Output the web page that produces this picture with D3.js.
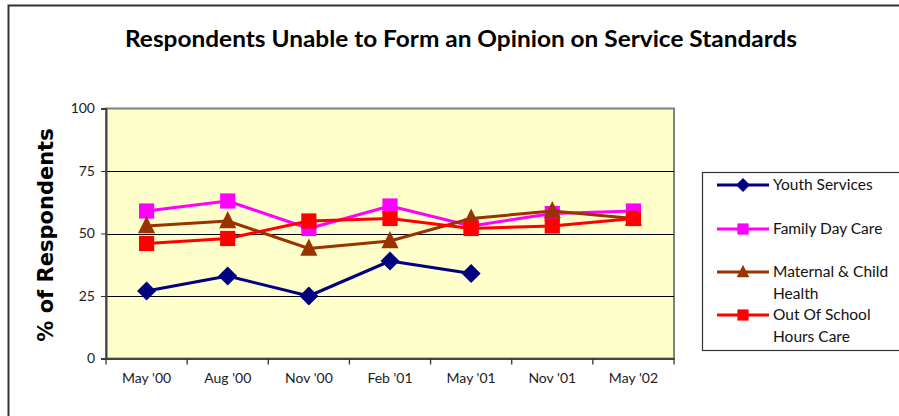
<!DOCTYPE html>
<html><head><meta charset="utf-8">
<script src="https://cdn.jsdelivr.net/npm/d3@7"></script>
<style>
body{margin:0;background:#fff;}
svg{display:block;}
</style></head>
<body>
<svg id="chart" width="899" height="416"></svg>
<script>
const categories = ["May '00","Aug '00","Nov '00","Feb '01","May '01","Nov '01","May '02"];
const youthServices = [27,33,25,39,34,null,null];
const familyDayCare = [59,63,52,61,53,58,59];
const maternalChildHealth = [53,55,44,47,56,59,56];
const outOfSchoolHoursCare = [46,48,55,56,52,53,56];
const yTicks = [0,25,50,75,100];
const seriesNames = ["Youth Services","Family Day Care","Maternal & Child Health","Out Of School Hours Care"];
const legendLines = [["Youth Services"],["Family Day Care"],["Maternal & Child","Health"],["Out Of School","Hours Care"]];
const seriesColors = ["#000080","#FF00FF","#993300","#FF0000"];
const seriesMarkers = ["diamond","square","triangle","square"];

const series = [youthServices,familyDayCare,maternalChildHealth,outOfSchoolHoursCare].map((vals,i)=>({
  name: seriesNames[i], color: seriesColors[i], marker: seriesMarkers[i],
  values: vals.map((v,j)=>({cat:categories[j], v}))
}));

const svg = d3.select("#chart");
const font = "Lato, 'Open Sans', sans-serif";

// outer frame
svg.append("path").attr("d","M8.5,416 L8.5,5.5 L899,5.5").attr("fill","none").attr("stroke","#333").attr("stroke-width",2);

const L=106, R=674, T=108.5, B=358.5;
const x = d3.scaleBand().domain(categories).range([L,R]).padding(0);
const y = d3.scaleLinear().domain([0,100]).range([B,T]);

// plot background
svg.append("rect").attr("x",L).attr("y",T).attr("width",R-L).attr("height",B-T)
  .attr("fill","#FFFFCC").attr("stroke","#808080").attr("stroke-width",2);

// gridlines
svg.append("g").selectAll("line").data(yTicks.filter(t=>t>0 && t<100)).join("line")
  .attr("x1",L).attr("x2",R).attr("y1",d=>Math.round(y(d))+0.5).attr("y2",d=>Math.round(y(d))+0.5)
  .attr("stroke","#000").attr("stroke-width",1);

// y axis
const yAxis = svg.append("g").attr("transform",`translate(${L},0)`)
  .call(d3.axisLeft(y).tickValues(yTicks).tickSize(5).tickPadding(6));
yAxis.select(".domain").attr("stroke","#444").attr("stroke-width",2);
yAxis.selectAll(".tick line").attr("stroke","#333");
yAxis.selectAll("text").attr("font-family",font).attr("font-size",14).attr("fill","#222");

// x axis
const xAxis = svg.append("g").attr("transform",`translate(0,${B})`)
  .call(d3.axisBottom(x).tickSize(0).tickPadding(15));
xAxis.select(".domain").attr("stroke","#444").attr("stroke-width",2);
xAxis.selectAll("text").attr("font-family",font).attr("font-size",14).attr("fill","#222");
// tick marks at band boundaries
const bounds = categories.map(c=>x(c)).concat([R]);
svg.append("g").selectAll("line").data(bounds).join("line")
  .attr("x1",d=>d).attr("x2",d=>d).attr("y1",B).attr("y2",B+6)
  .attr("stroke","#333").attr("stroke-width",1.3);

// marker generator
function markerPath(type,size){
  const s = size;
  if(type==="diamond") return `M0,${-s}L${s},0L0,${s}L${-s},0Z`;
  if(type==="square") return `M${-s*0.8},${-s*0.8}H${s*0.8}V${s*0.8}H${-s*0.8}Z`;
  if(type==="triangle") return `M0,${-s*1.05}L${s*0.9},${s*0.75}L${-s*0.9},${s*0.75}Z`;
}

const line = d3.line().defined(d=>d.v!=null).x(d=>x(d.cat)+x.bandwidth()/2).y(d=>y(d.v));

series.forEach(s=>{
  const g = svg.append("g");
  g.append("path").datum(s.values).attr("d",line).attr("fill","none")
    .attr("stroke",s.color).attr("stroke-width",3).attr("stroke-linejoin","round");
  g.selectAll("path.m").data(s.values.filter(d=>d.v!=null)).join("path").attr("class","m")
    .attr("transform",d=>`translate(${x(d.cat)+x.bandwidth()/2},${y(d.v)})`)
    .attr("d",markerPath(s.marker,9.5)).attr("fill",s.color);
});

// title
svg.append("text").attr("x",461).attr("y",47).attr("text-anchor","middle")
  .attr("font-family",font).attr("font-weight","bold").attr("font-size",23)
  .attr("textLength",672).attr("lengthAdjust","spacingAndGlyphs").attr("fill","#000")
  .text("Respondents Unable to Form an Opinion on Service Standards");

// y label
svg.append("text").attr("transform","translate(53,235) rotate(-90)").attr("text-anchor","middle")
  .attr("font-family","'DejaVu Sans', Verdana, sans-serif").attr("font-weight","bold").attr("font-size",21)
  .attr("fill","#000").text("% of Respondents");

// legend
const lg = svg.append("g");
lg.append("rect").attr("x",702.5).attr("y",172.5).attr("width",200).attr("height",178)
  .attr("fill","#fff").attr("stroke","#333").attr("stroke-width",1.2);
const rowY = [185,229,272,315];
series.forEach((s,i)=>{
  const yy = rowY[i];
  lg.append("line").attr("x1",717).attr("x2",769).attr("y1",yy).attr("y2",yy)
    .attr("stroke",s.color).attr("stroke-width",3);
  lg.append("path").attr("transform",`translate(743,${yy})`).attr("d",markerPath(s.marker,7)).attr("fill",s.color);
  legendLines[i].forEach((t,k)=>{
    lg.append("text").attr("x",773).attr("y",yy+5+k*21.5)
      .attr("font-family",font).attr("font-size",15.5).attr("fill","#111").text(t);
  });
});
</script>
</body></html>
